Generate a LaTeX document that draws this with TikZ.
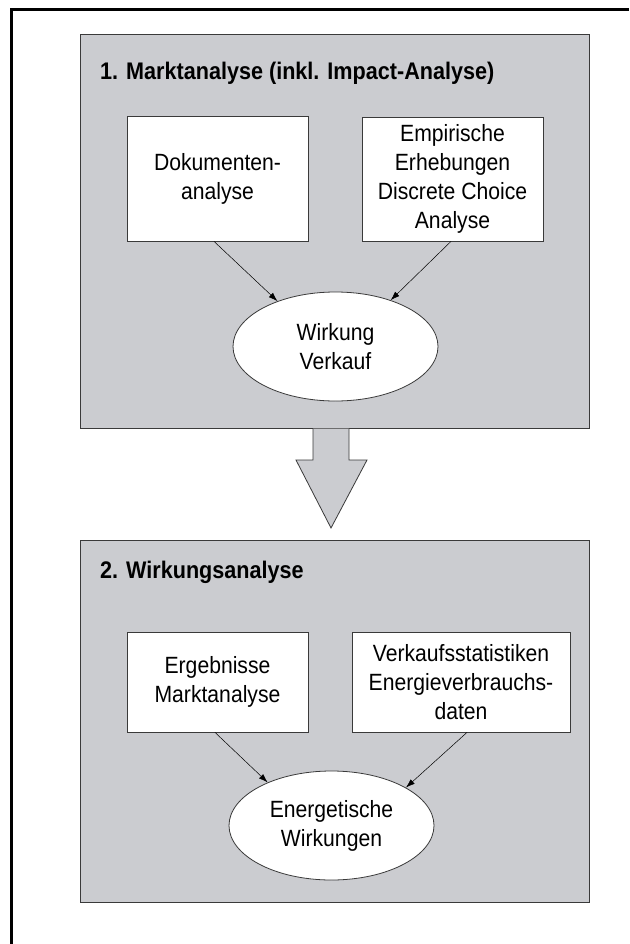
\documentclass[tikz,border=0pt]{standalone}
\usepackage{fontspec}
\setmainfont{Liberation Sans}[FakeStretch=0.9]
\usepackage{tikz}
\usetikzlibrary{positioning,arrows.meta,shapes.geometric}
\usepackage{xcolor}
\definecolor{panelgray}{HTML}{CBCCD0}
\definecolor{edgegray}{HTML}{3A3A3A}

\begin{document}
\begin{tikzpicture}[
          x=1pt,y=-1pt,
          panel/.style={draw=edgegray,line width=0.9pt,fill=panelgray,inner sep=0pt},
          title/.style={anchor=west,inner sep=0pt,font=\fontsize{24}{29}\selectfont\bfseries},
          box/.style={draw=edgegray,line width=0.8pt,fill=white,align=center,inner sep=0pt,
                      font=\fontsize{23.5}{29}\selectfont},
          result/.style={box,ellipse},
          flow/.style={-{Latex[length=9pt,width=6pt]},line width=0.5pt}]
        \useasboundingbox (0,0) rectangle (629,944);
        % frame
        \draw[line width=3pt] (629,9.5) -- (11.5,9.5) -- (11.5,944);
        % step 1
        \node[panel,minimum width=509,minimum height=394] (mk) at (334.5,231) {};
        \node[title] (mkt) at (100,73) {1. Marktanalyse (inkl. Impact-Analyse)};
        \node[box,minimum width=181,minimum height=125] (dok) at (217.5,178.5) {Dokumenten-\\analyse};
        \node[box,minimum width=181,minimum height=124] (emp) at (452.5,179) {Empirische\\Erhebungen\\Discrete Choice\\Analyse};
        \node[result,minimum width=205,minimum height=109] (wv) at (335.5,346.5) {Wirkung\\Verkauf};
        \draw[flow] ([xshift=-3.5]dok.south) -- (wv.142);
        \draw[flow] ([xshift=-1.5]emp.south) -- (wv.40);
        % big arrow
        \draw[draw=edgegray,line width=0.8pt,fill=panelgray]
              (313,428.5) -- (313,460) -- (296,460) -- (331,528) -- (367,460) -- (349,460) -- (349,428.5);
        % step 2
        \node[panel,minimum width=509,minimum height=362] (wa) at (334.5,721) {};
        \node[title] (wat) at (100,572) {2. Wirkungsanalyse};
        \node[box,minimum width=181,minimum height=100] (erg) at (217.5,682) {Ergebnisse\\Marktanalyse};
        \node[box,minimum width=218,minimum height=100] (vks) at (461,682) {Verkaufsstatistiken\\Energieverbrauchs-\\daten};
        \node[result,minimum width=205,minimum height=109] (ew) at (331.5,825.5) {Energetische\\Wirkungen};
        \draw[flow] ([xshift=-2.5]erg.south) -- (ew.146);
        \draw[flow] ([xshift=6]vks.south) -- (ew.27);
      \end{tikzpicture}
\end{document}
